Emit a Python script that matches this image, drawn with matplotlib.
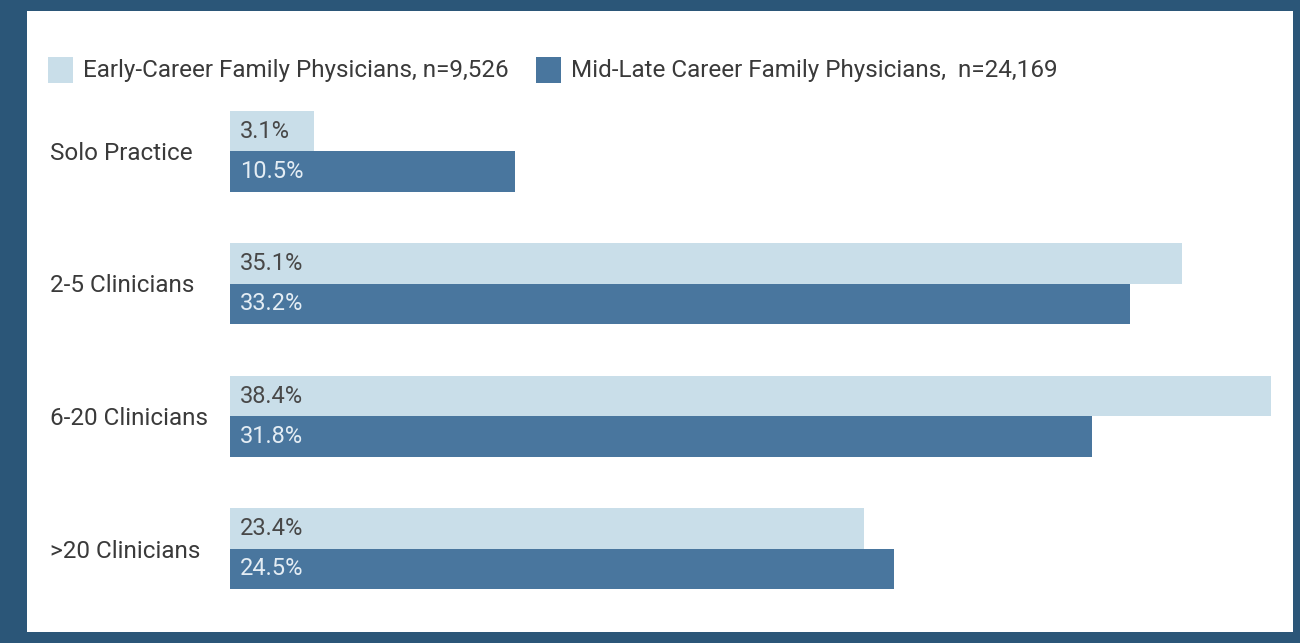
import matplotlib.pyplot as plt
from matplotlib.patches import Rectangle

plt.rcParams["font.family"] = ["Roboto", "DejaVu Sans"]

categories = ["Solo Practice", "2-5 Clinicians", "6-20 Clinicians", ">20 Clinicians"]
early_career = [3.1, 35.1, 38.4, 23.4]
mid_late_career = [10.5, 33.2, 31.8, 24.5]
series_labels = [
    "Early-Career Family Physicians, n=9,526",
    "Mid-Late Career Family Physicians,  n=24,169",
]

LIGHT = "#c9dee9"
DARK = "#49769e"
FRAME = "#2b5678"
TEXT = "#3a3a3a"

W, H = 1300, 643
fig = plt.figure(figsize=(W / 100, H / 100), dpi=100, facecolor=FRAME)

# white card inside the dark frame
fig.patches.append(Rectangle((27 / W, 11 / H), (1293 - 27) / W, (632 - 11) / H,
                             transform=fig.transFigure, facecolor="white",
                             edgecolor="none", zorder=-10))


def px_axes(x0, y0, x1, y1):
    return fig.add_axes([x0 / W, 1 - y1 / H, (x1 - x0) / W, (y1 - y0) / H])


ax = px_axes(230, 85, 1271, 615)
ax.set_zorder(2)
ax.set_facecolor("none")
ax.set_xlim(0, 38.4)
ax.set_ylim(3.5, -0.5)
ax.axis("off")

bar_h = 0.305
for i, (e, m) in enumerate(zip(early_career, mid_late_career)):
    ax.barh(i - bar_h / 2, e, height=bar_h, color=LIGHT, edgecolor="none")
    ax.barh(i + bar_h / 2, m, height=bar_h, color=DARK, edgecolor="none")
    ax.text(0.38, i - bar_h / 2, f"{e}%", va="center", ha="left",
            fontsize=17, color="#484848")
    ax.text(0.38, i + bar_h / 2, f"{m}%", va="center", ha="left",
            fontsize=17, color="#e4edf4")
    fig.text(50 / W, 1 - (153 + i * 132.7) / H, categories[i],
             va="center", ha="left", fontsize=17.5, color=TEXT)

# legend row
for x0, color, label in [(48, LIGHT, series_labels[0]), (536, DARK, series_labels[1])]:
    fig.patches.append(Rectangle((x0 / W, 1 - 83 / H), 25 / W, 26 / H,
                                 transform=fig.transFigure, facecolor=color,
                                 edgecolor="none"))
    fig.text((x0 + 35) / W, 1 - 70 / H, label, va="center", ha="left",
             fontsize=17.5, color=TEXT)

fig.savefig("out.png", dpi=100, facecolor=FRAME)
